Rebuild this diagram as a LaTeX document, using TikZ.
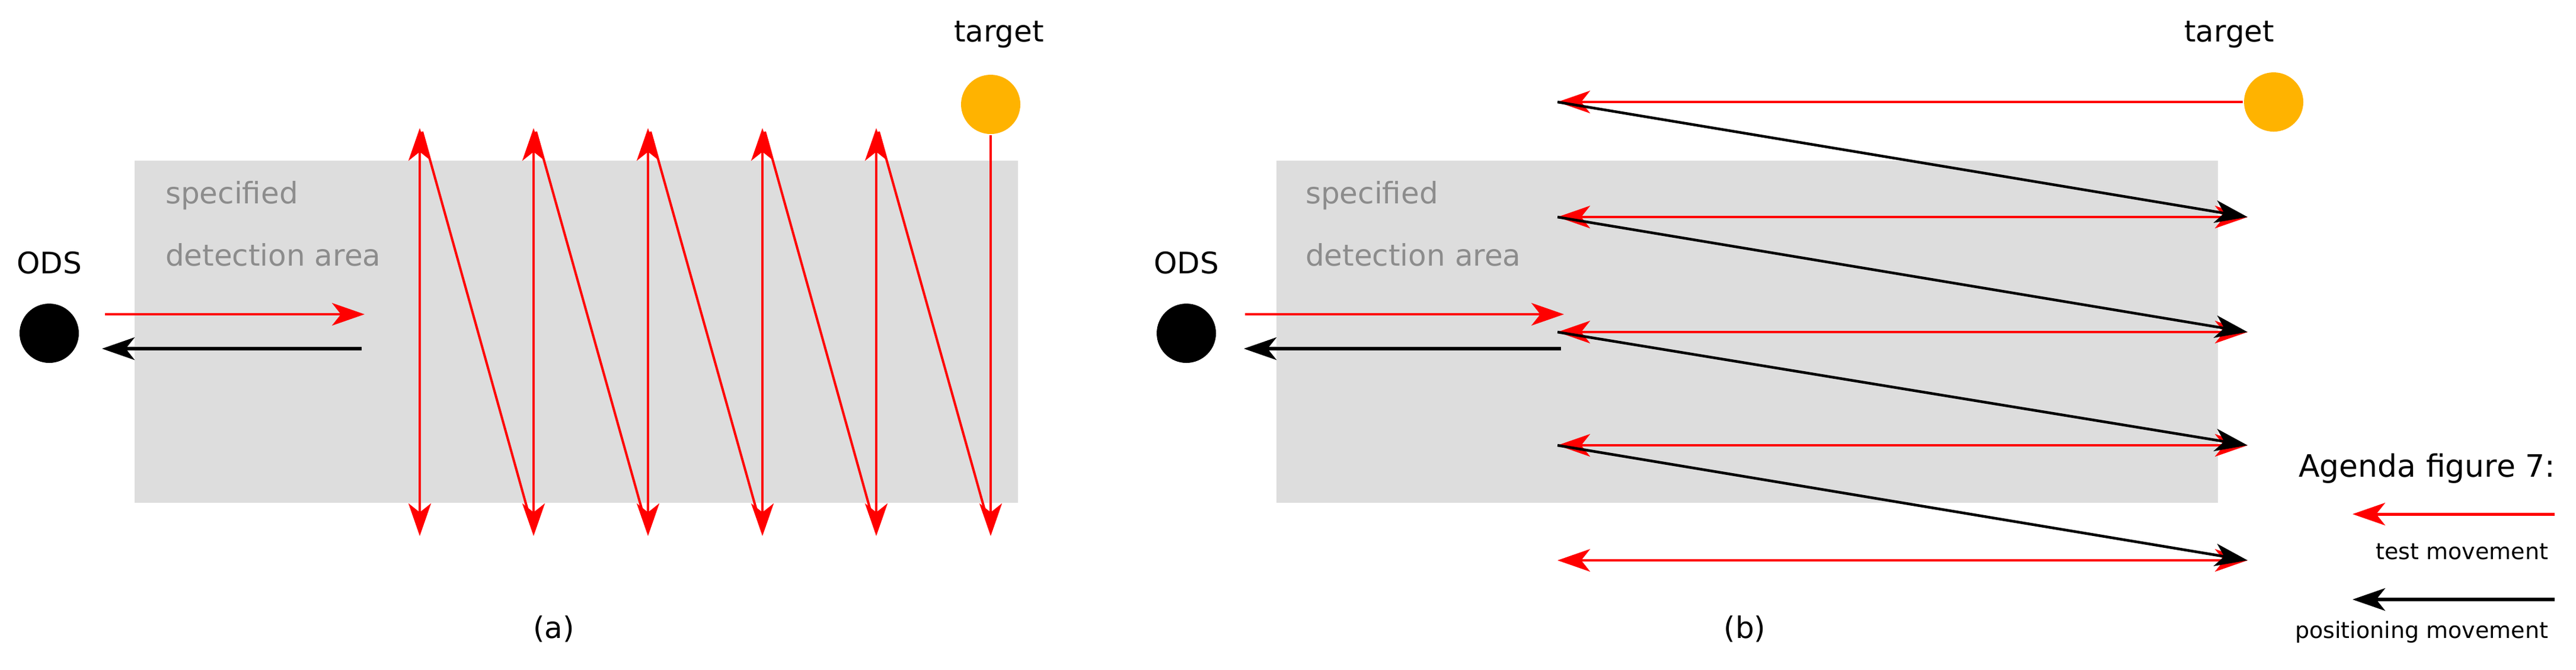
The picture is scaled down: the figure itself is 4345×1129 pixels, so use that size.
\documentclass[tikz,border=0pt]{standalone}
\usepackage{fontspec}
\setmainfont{DejaVu Sans}
\usetikzlibrary{arrows.meta}
\definecolor{areagray}{HTML}{DDDDDD}
\definecolor{txtgray}{HTML}{8C8C8C}
\definecolor{tgt}{HTML}{FFB300}
\definecolor{rd}{HTML}{FF0000}
\tikzset{
 mytip/.tip={Stealth[length=5.5pt,width=3.8pt,inset=1.5pt]},
 testmv/.style={draw=rd,line width=0.4pt,arrows={-mytip}},
 testdbl/.style={draw=rd,line width=0.4pt,arrows={mytip-mytip}},
 posmv/.style={draw=black,line width=0.55pt,arrows={-mytip}},
 lbl/.style={font=\fontsize{5}{6}\selectfont,inner sep=0},
 graylbl/.style={lbl,text=txtgray,anchor=west},
 dot/.style={circle,inner sep=0,minimum size=10pt},
}
\begin{document}
\begin{tikzpicture}[x=0.1pt,y=-0.1pt]
\useasboundingbox (0,0) rectangle (4345,1129);
% ---------- panel (a)
\fill[areagray] (227,271) rectangle (1717,848);
\node[graylbl] (sa) at (277,330) {specified};
\node[graylbl] (da) at (277,430) {detection area};
\node[lbl] (odsa) at (83,443) {ODS};
\node[dot,fill=black] (ca) at (83,562) {};
\node[dot,fill=tgt] (ta) at (1671,176) {};
\node[lbl] (tta) at (1685,58) {target};
\node[lbl] (la) at (934,1061) {(a)};
\coordinate (ar1) at (177,530); \coordinate (ar2) at (615,530);
\coordinate (ab1) at (610,588); \coordinate (ab2) at (172,588);
\draw[testmv] (ar1) -- (ar2);
\draw[posmv] (ab1) -- (ab2);
\foreach \i/\x in {1/708,2/900,3/1093,4/1286,5/1478}{
  \coordinate (t\i) at (\x,216); \coordinate (b\i) at (\x,904);
  \draw[testdbl] (t\i) -- (b\i);
}
\coordinate (b6) at (1671,904);
\draw[testmv] (ta.south) -- (b6);
\foreach \i/\j in {1/2,2/3,3/4,4/5,5/6}{
  \draw[rd,line width=0.4pt] ([yshift=-0.6pt,xshift=0.4pt]t\i) -- ([yshift=0.8pt]b\j);
}
% ---------- panel (b)
\fill[areagray] (2153,271) rectangle (3741,848);
\node[graylbl] (sb) at (2200,330) {specified};
\node[graylbl] (db) at (2200,430) {detection area};
\node[lbl] (odsb) at (2001,443) {ODS};
\node[dot,fill=black] (cb) at (2001,562) {};
\node[dot,fill=tgt] (tb) at (3835,172) {};
\node[lbl] (ttb) at (3760,58) {target};
\node[lbl] (lb) at (2943,1061) {(b)};
\coordinate (br1) at (2100,530); \coordinate (br2) at (2638,530);
\coordinate (bb1) at (2633,588); \coordinate (bb2) at (2098,588);
\draw[testmv] (br1) -- (br2);
\draw[posmv] (bb1) -- (bb2);
\coordinate (L1) at (2627,172);
\draw[testmv] (tb.west) -- (L1);
\foreach \i/\y in {2/366,3/560,4/751,5/945}{
  \coordinate (L\i) at (2627,\y); \coordinate (R\i) at (3791,\y);
  \draw[testdbl] (L\i) -- (R\i);
}
\foreach \i/\j in {1/2,2/3,3/4,4/5}{
  \draw[posmv,line width=0.45pt] (L\i) -- (R\j);
}
% ---------- legend
\node[lbl,anchor=east,font=\fontsize{5.2}{7}\selectfont] (ag) at (4312,790) {Agenda figure 7:};
\coordinate (lg1) at (4309,867); \coordinate (lg2) at (3968,867);
\draw[testmv,line width=0.5pt] (lg1) -- (lg2);
\node[lbl,anchor=east,font=\fontsize{3.8}{5}\selectfont] (tm) at (4300,930) {test movement};
\coordinate (lg3) at (4309,1011); \coordinate (lg4) at (3968,1011);
\draw[posmv] (lg3) -- (lg4);
\node[lbl,anchor=east,font=\fontsize{3.8}{5}\selectfont] (pm) at (4300,1066) {positioning movement};
\end{tikzpicture}
\end{document}
